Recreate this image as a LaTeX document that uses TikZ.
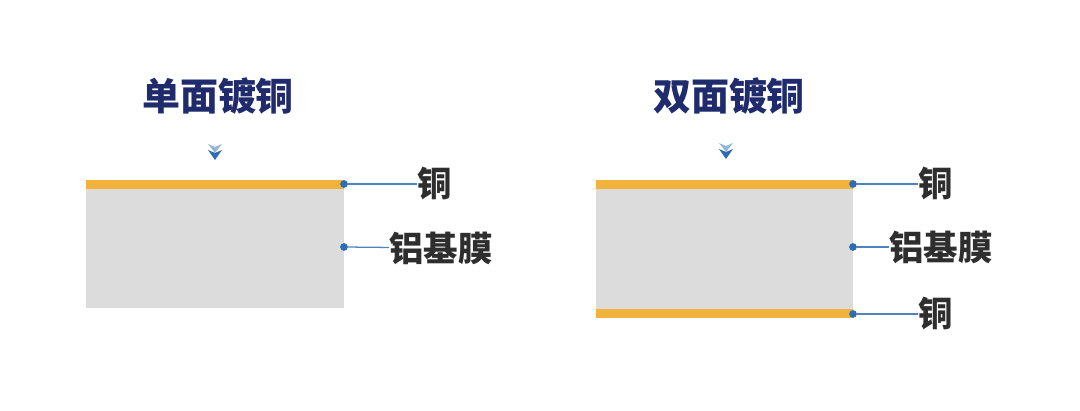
\documentclass[tikz,border=0pt]{standalone}
\usepackage{fontspec}
\setmainfont{Noto Sans CJK SC}
\usetikzlibrary{positioning}
\definecolor{copper}{HTML}{F2B33D}
\definecolor{film}{HTML}{DCDCDC}
\definecolor{pinblue}{HTML}{2E6DB4}
\definecolor{navy}{HTML}{1F2B6C}
\definecolor{ink}{HTML}{2E2E2E}

\begin{document}
\begin{tikzpicture}[
x=0.025cm,y=-0.025cm,
copperlayer/.style={
  fill=copper,
  draw=none
  },
filmlayer/.style={
  fill=film,
  draw=none
  },
pindot/.style={
  circle,
  fill=pinblue,
  inner sep=0pt,
  minimum size=5.5pt
  },
lead/.style={
  draw=pinblue!85,
  line width=0.9pt
  },
title/.style={
  font=\fontsize{27}{31}\selectfont\bfseries,
  text=navy,
  inner sep=0pt
  },
tag/.style={
  font=\fontsize{24.5}{28}\selectfont\bfseries,
  text=ink,
  inner sep=0pt,
  anchor=west
  },
chevup/.style={
  fill=pinblue!50
  },
chevdown/.style={
  fill=pinblue
  }
]
\useasboundingbox (0,0) rectangle (1080,411);

% single-sided
\fill[filmlayer] (86,188) rectangle (344,308);
\fill[copperlayer] (86,180) rectangle (344,189);
\node[title] (titleA) at (218,96) {单面镀铜};
\fill[chevup] (208,144) -- (215,153) -- (222,144) -- (215,147) -- cycle;
\fill[chevdown] (208,150) -- (215,160) -- (222,150) -- (215,153) -- cycle;

\node[pindot] (cuA) at (344,184) {};
\node[pindot] (alA) at (344,247) {};
\node[tag] (cuAt) at (417,184) {铜};
\node[tag] (alAt) at (389,248) {铝基膜};
\draw[lead] (cuA) -- (cuAt);
\draw[lead] (alA) -- (alAt);

% double-sided
\fill[filmlayer] (596,188) rectangle (853,310);
\fill[copperlayer] (596,180) rectangle (853,189);
\fill[copperlayer] (596,309) rectangle (853,318);
\node[title] (titleB) at (729,96) {双面镀铜};
\fill[chevup] (719,143) -- (726,152) -- (733,143) -- (726,146) -- cycle;
\fill[chevdown] (719,149) -- (726,159) -- (733,149) -- (726,152) -- cycle;

\foreach \y/\n/\t/\x in {184/cuB/铜/918,247/alB/铝基膜/889,314/cuC/铜/918}
{
  \node[pindot] (\n) at (853,\y) {};
  \node[tag] (\n t) at (\x,\y) {\t};
  \draw[lead] (\n) -- (\n t);
}
\end{tikzpicture}
\end{document}
